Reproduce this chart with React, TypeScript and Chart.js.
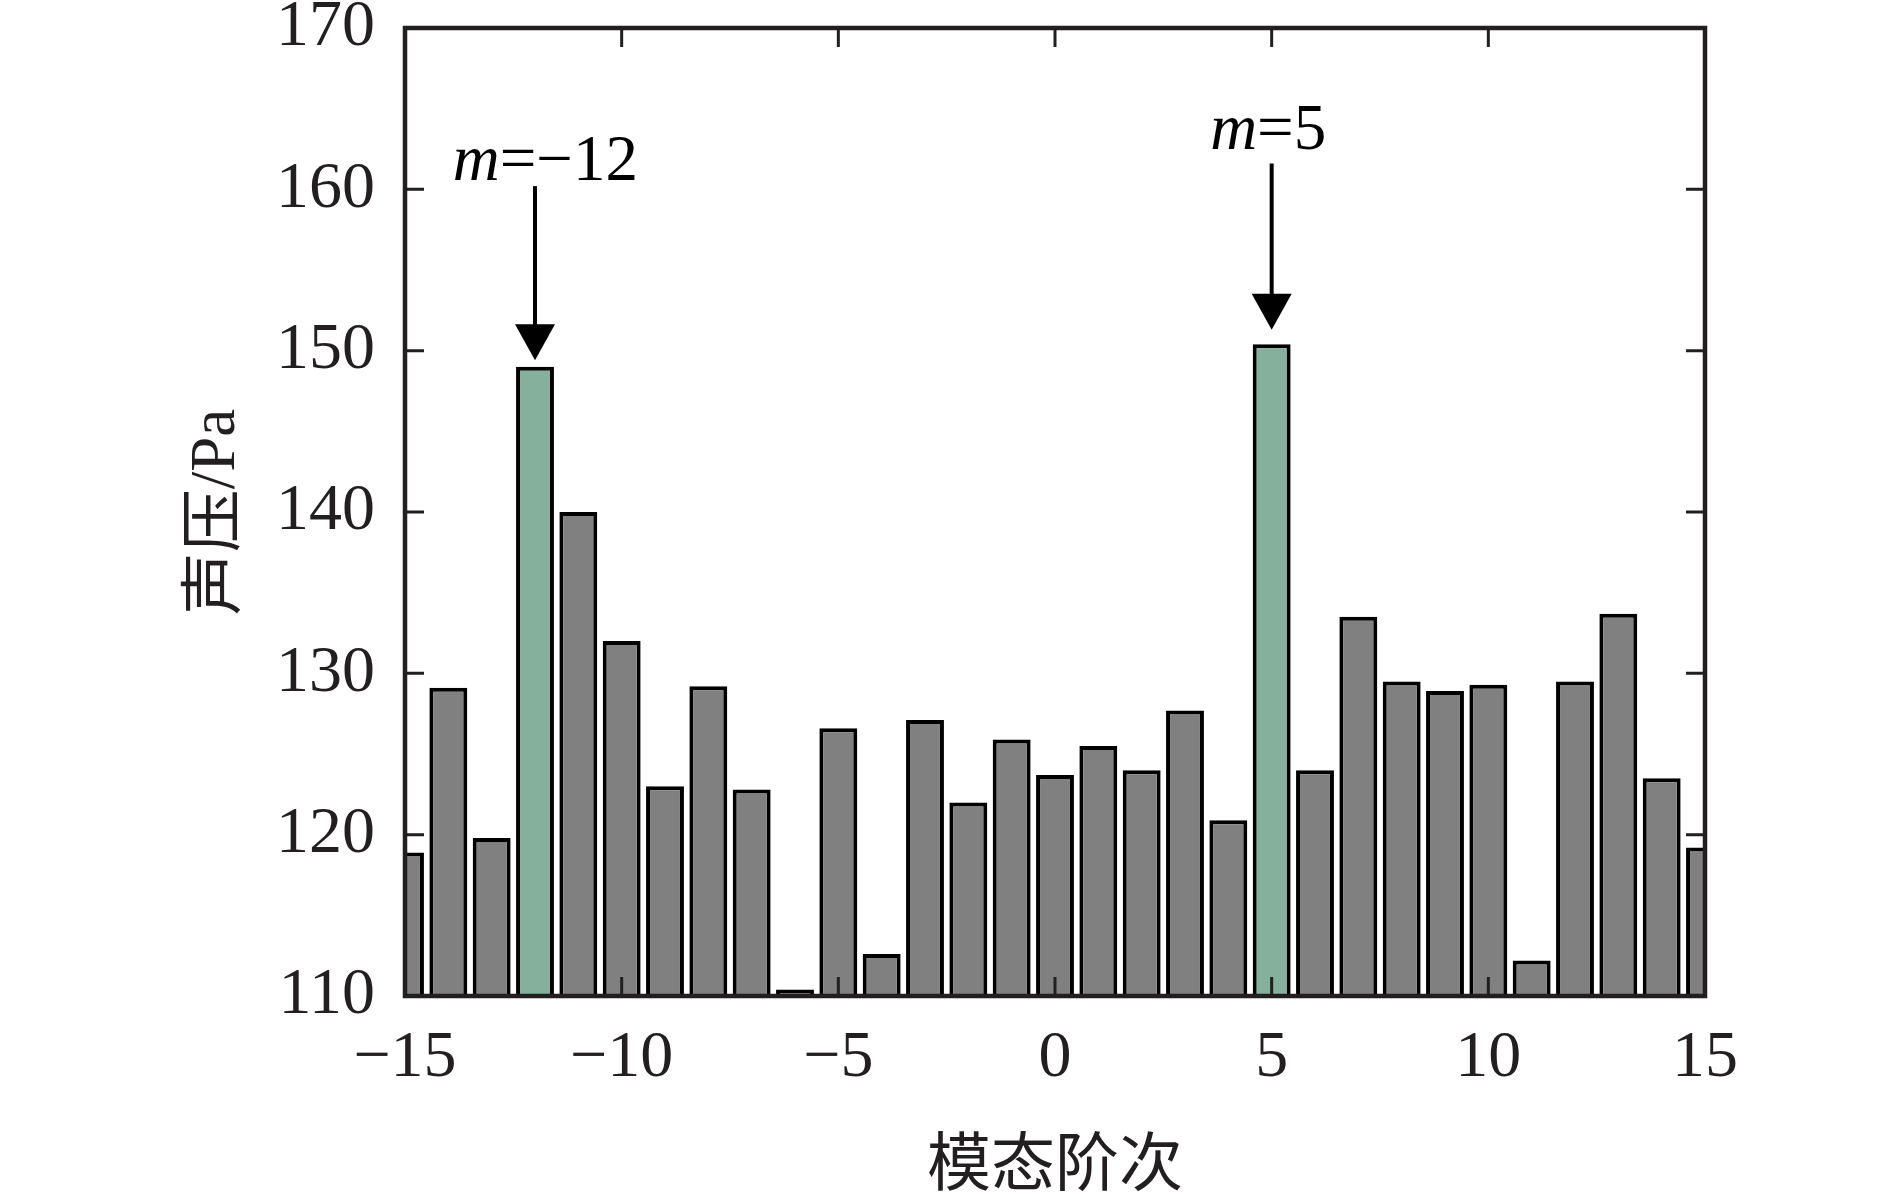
import React, { useEffect, useRef } from "react";
import { Chart, registerables } from "chart.js";

Chart.register(...registerables);

// ---------------- data ----------------
const modes: number[] = [
  -15, -14, -13, -12, -11, -10, -9, -8, -7, -6, -5, -4, -3, -2, -1, 0,
  1, 2, 3, 4, 5, 6, 7, 8, 9, 10, 11, 12, 13, 14, 15,
];
const pressures: number[] = [
  118.9, 129.1, 119.8, 149.0, 140.0, 132.0, 123.0, 129.2, 122.8, 110.4, 126.6,
  112.6, 127.1, 122.0, 125.9, 123.7, 125.5, 124.0, 127.7, 120.9, 150.4, 124.0,
  133.5, 129.5, 128.9, 129.3, 112.2, 129.5, 133.7, 123.5, 119.2,
];
const highlightedModes: number[] = [-12, 5];

const xTickValues: number[] = [-15, -10, -5, 0, 5, 10, 15];
const yTickValues: number[] = [110, 120, 130, 140, 150, 160, 170];

const annotationModes: number[] = [-12, 5];
const annotationLabels: string[] = ["=\u221212", "=5"];
const annotationTextX: number[] = [-11.76, 4.92];
const annotationTextY: number[] = [160.6, 162.5];
const arrowStart: number[] = [160.2, 161.6];
const arrowEnd: number[] = [149.4, 151.3];

const xTitle = "模态阶次";
const yTitle = "声压/Pa";

// ---------------- styles ----------------
const GRAY = "#808080";
const GREEN = "#85B09B";
const INK = "#231f20";
const SERIF = '"Liberation Serif", "Times New Roman", "Noto Sans CJK SC", serif';
const CJK = '"Noto Sans CJK SC", "Liberation Serif", sans-serif';

const framePlugin = {
  id: "frameAndNotes",
  afterDatasetsDraw(chart: any) {
    const { ctx, chartArea: a, scales } = chart;
    const xs = scales.x;
    const ys = scales.y;
    ctx.save();
    ctx.strokeStyle = INK;
    ctx.lineWidth = 3;
    const tl = 19;
    ctx.beginPath();
    for (const v of xTickValues) {
      const px = xs.getPixelForValue(v);
      ctx.moveTo(px, a.bottom);
      ctx.lineTo(px, a.bottom - tl);
      ctx.moveTo(px, a.top);
      ctx.lineTo(px, a.top + tl);
    }
    for (const v of yTickValues) {
      const py = ys.getPixelForValue(v);
      ctx.moveTo(a.left, py);
      ctx.lineTo(a.left + tl, py);
      ctx.moveTo(a.right, py);
      ctx.lineTo(a.right - tl, py);
    }
    ctx.stroke();
    ctx.lineWidth = 4.5;
    ctx.strokeRect(a.left, a.top, a.right - a.left, a.bottom - a.top);

    // annotations
    for (let i = 0; i < annotationModes.length; i++) {
      const ax = xs.getPixelForValue(annotationModes[i]);
      const y0 = ys.getPixelForValue(arrowStart[i]);
      const y1 = ys.getPixelForValue(arrowEnd[i]);
      const headLen = 36;
      const headHalf = 20;
      ctx.strokeStyle = "#000";
      ctx.fillStyle = "#000";
      ctx.lineWidth = 4;
      ctx.beginPath();
      ctx.moveTo(ax, y0);
      ctx.lineTo(ax, y1 - headLen + 2);
      ctx.stroke();
      ctx.beginPath();
      ctx.moveTo(ax - headHalf, y1 - headLen);
      ctx.lineTo(ax + headHalf, y1 - headLen);
      ctx.lineTo(ax, y1);
      ctx.closePath();
      ctx.fill();

      // text: italic m + upright rest
      const fs = 65;
      const italic = `italic ${fs}px ${SERIF}`;
      const upright = `${fs}px ${SERIF}`;
      ctx.font = italic;
      const wm = ctx.measureText("m").width;
      ctx.font = upright;
      const wr = ctx.measureText(annotationLabels[i]).width;
      const total = wm + wr;
      const cx = xs.getPixelForValue(annotationTextX[i]);
      const by = ys.getPixelForValue(annotationTextY[i]);
      const left = cx - total / 2;
      ctx.textBaseline = "alphabetic";
      ctx.textAlign = "left";
      ctx.font = italic;
      ctx.fillText("m", left, by);
      ctx.font = upright;
      ctx.fillText(annotationLabels[i], left + wm, by);
    }
    ctx.restore();
  },
};

export default function App() {
  const ref = useRef<HTMLCanvasElement | null>(null);

  useEffect(() => {
    const canvas = ref.current;
    if (!canvas) return;
    const colors = modes.map((m) => (highlightedModes.includes(m) ? GREEN : GRAY));
    const chart = new Chart(canvas, {
      type: "bar",
      data: {
        datasets: [
          {
            data: modes.map((m, i) => ({ x: m, y: pressures[i] })),
            backgroundColor: colors,
            borderColor: "#000",
            borderWidth: 4,
            borderSkipped: "start",
            barPercentage: 0.875,
            categoryPercentage: 1,
            clip: 0,
          } as any,
        ],
      },
      options: {
        animation: false,
        responsive: true,
        maintainAspectRatio: false,
        devicePixelRatio: 1,
        layout: { padding: { left: 0, right: 185, top: 28, bottom: 0 } },
        plugins: { legend: { display: false }, tooltip: { enabled: false } },
        scales: {
          x: {
            type: "linear",
            min: -15,
            max: 15,
            offset: false,
            grid: { display: false, drawTicks: false },
            border: { display: false },
            afterBuildTicks: (s: any) => {
              s.ticks = xTickValues.map((v) => ({ value: v }));
            },
            afterFit: (s: any) => {
              s.height = 198;
              s.paddingLeft = 0;
              s.paddingRight = 0;
            },
            ticks: {
              autoSkip: false,
              maxRotation: 0,
              padding: 30,
              color: INK,
              font: { family: SERIF, size: 66, lineHeight: 1 },
              callback: (v: any) => String(v).replace("-", "\u2212"),
            },
            title: {
              display: true,
              text: xTitle,
              color: INK,
              font: { family: CJK, size: 64, lineHeight: 1 },
              padding: { top: 0, bottom: 1 },
            },
          },
          y: {
            type: "linear",
            min: 110,
            max: 170,
            beginAtZero: false,
            grid: { display: false, drawTicks: false },
            border: { display: false },
            afterBuildTicks: (s: any) => {
              s.ticks = yTickValues.map((v) => ({ value: v }));
            },
            afterFit: (s: any) => {
              s.width = 405;
              s.paddingTop = 0;
              s.paddingBottom = 0;
            },
            ticks: {
              padding: 30,
              color: INK,
              font: { family: SERIF, size: 66, lineHeight: 1 },
              callback: (v: any) => String(v),
            },
            title: {
              display: true,
              text: yTitle,
              color: INK,
              font: { family: SERIF, size: 63, lineHeight: 1 },
              padding: { top: 186, bottom: 0 },
            },
          },
        },
      },
      plugins: [framePlugin],
    });
    return () => chart.destroy();
  }, []);

  return (
    <div
      style={{
        position: "fixed",
        left: 0,
        top: 0,
        width: 1890,
        height: 1194,
        background: "#fff",
      }}
    >
      <canvas ref={ref} />
    </div>
  );
}
